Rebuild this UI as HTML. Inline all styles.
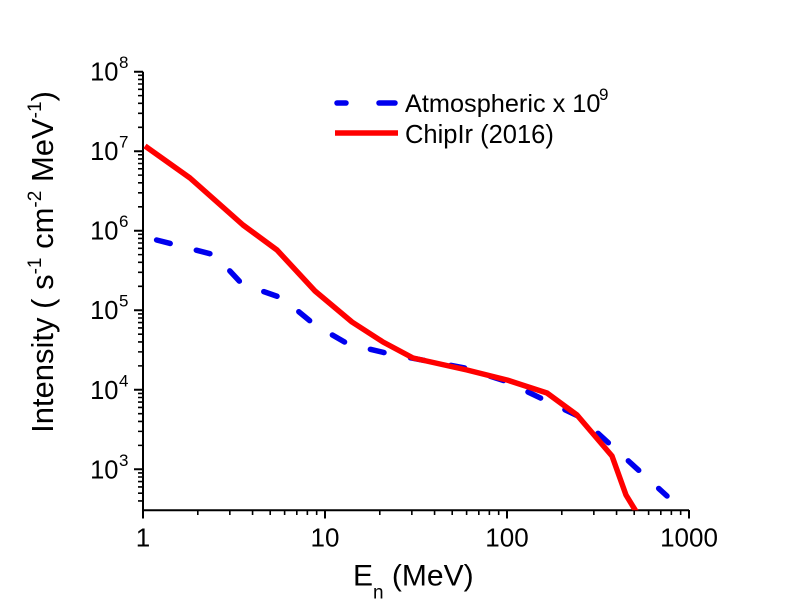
<!DOCTYPE html>
<html><head><meta charset="utf-8"><style>
html,body{margin:0;padding:0;background:#fff;}
svg{display:block;}
text{font-family:"Liberation Sans",Arial,sans-serif;fill:#000;}
</style></head><body>
<svg width="800" height="612" viewBox="0 0 800 612" xmlns="http://www.w3.org/2000/svg">
<rect width="800" height="612" fill="#fff"/>
<defs><clipPath id="c"><rect x="140" y="60" width="560" height="450.3"/></clipPath></defs>
<!-- axes -->
<path d="M143 71.7 V510.3 H689" fill="none" stroke="#000" stroke-width="2"/>
<!-- y major ticks -->
<path d="M134 71.7H143M134 151.2H143M134 230.7H143M134 310.2H143M134 389.8H143M134 469.3H143" stroke="#000" stroke-width="2"/>
<!-- y minor ticks -->
<path d="M138 127.27H143M138 113.27H143M138 103.34H143M138 95.63H143M138 89.34H143M138 84.01H143M138 79.4H143M138 75.34H143
M138 206.77H143M138 192.77H143M138 182.84H143M138 175.13H143M138 168.84H143M138 163.51H143M138 158.9H143M138 154.84H143
M138 286.27H143M138 272.27H143M138 262.34H143M138 254.63H143M138 248.34H143M138 243.01H143M138 238.4H143M138 234.34H143
M138 365.87H143M138 351.87H143M138 341.94H143M138 334.23H143M138 327.94H143M138 322.61H143M138 318H143M138 313.94H143
M138 445.37H143M138 431.37H143M138 421.44H143M138 413.73H143M138 407.44H143M138 402.11H143M138 397.5H143M138 393.44H143
M138 500.94H143M138 493.23H143M138 486.94H143M138 481.61H143M138 477H143M138 472.94H143" stroke="#000" stroke-width="1.6"/>
<!-- x major ticks -->
<path d="M143 510V518.5M325 510V518.5M507 510V518.5M689 510V518.5" stroke="#000" stroke-width="2"/>
<!-- x minor ticks -->
<path d="M197.79 510V515M229.84 510V515M252.57 510V515M270.21 510V515M284.62 510V515M296.81 510V515M307.36 510V515M316.67 510V515
M379.79 510V515M411.84 510V515M434.57 510V515M452.21 510V515M466.62 510V515M478.81 510V515M489.36 510V515M498.67 510V515
M561.79 510V515M593.84 510V515M616.57 510V515M634.21 510V515M648.62 510V515M660.81 510V515M671.36 510V515M680.67 510V515" stroke="#000" stroke-width="1.6"/>
<!-- y tick labels -->
<g font-size="25.5" text-anchor="end">
<text x="118.5" y="80.7">10</text>
<text x="118.5" y="160.2">10</text>
<text x="118.5" y="239.7">10</text>
<text x="118.5" y="319.2">10</text>
<text x="118.5" y="398.8">10</text>
<text x="118.5" y="478.3">10</text>
</g>
<g font-size="17">
<text x="119" y="68.2">8</text>
<text x="119" y="147.7">7</text>
<text x="119" y="227.2">6</text>
<text x="119" y="306.7">5</text>
<text x="119" y="386.3">4</text>
<text x="119" y="465.8">3</text>
</g>
<!-- x tick labels -->
<g font-size="26" text-anchor="middle">
<text x="143" y="546.5">1</text>
<text x="325" y="546.5">10</text>
<text x="507" y="546.5">100</text>
<text x="689" y="546.5">1000</text>
</g>
<!-- axis titles -->
<text x="353" y="585.5" font-size="30">E<tspan font-size="19" dy="13">n</tspan><tspan dy="-13"> (MeV)</tspan></text>
<text transform="translate(53,262) rotate(-90)" text-anchor="middle" font-size="31">Intensity ( s<tspan font-size="19" dy="-12">-1</tspan><tspan dy="12"> cm</tspan><tspan font-size="19" dy="-12">-2</tspan><tspan dy="12"> MeV</tspan><tspan font-size="19" dy="-12">-1</tspan><tspan dy="12">)</tspan></text>
<!-- series -->
<g clip-path="url(#c)">
<polyline points="145,237 215,255 242,284 282,298 315,325 348,344 390,354 465,368 505,381 580,417 667,496" fill="none" stroke="#0000ee" stroke-width="5.5" stroke-linecap="round" stroke-linejoin="round" stroke-dasharray="14 27" stroke-dashoffset="29"/>
<polyline points="145,146 190,178 243,225 277,250 315,291 352,322 383,342 413,358 467,370 507,380 547,393 577,415 612,456 626,495 637,513" fill="none" stroke="#ff0000" stroke-width="5.5" stroke-linejoin="round"/>
</g>
<!-- legend -->
<path d="M337 103H346M379 103H395" stroke="#0000ee" stroke-width="5.5" stroke-linecap="round"/>
<path d="M335 133H398" stroke="#ff0000" stroke-width="5.5"/>
<text x="405" y="112" font-size="25.3">Atmospheric x 10</text>
<text x="599" y="100" font-size="17">9</text>
<text x="405" y="143" font-size="25.5">ChipIr (2016)</text>
</svg>
</body></html>
